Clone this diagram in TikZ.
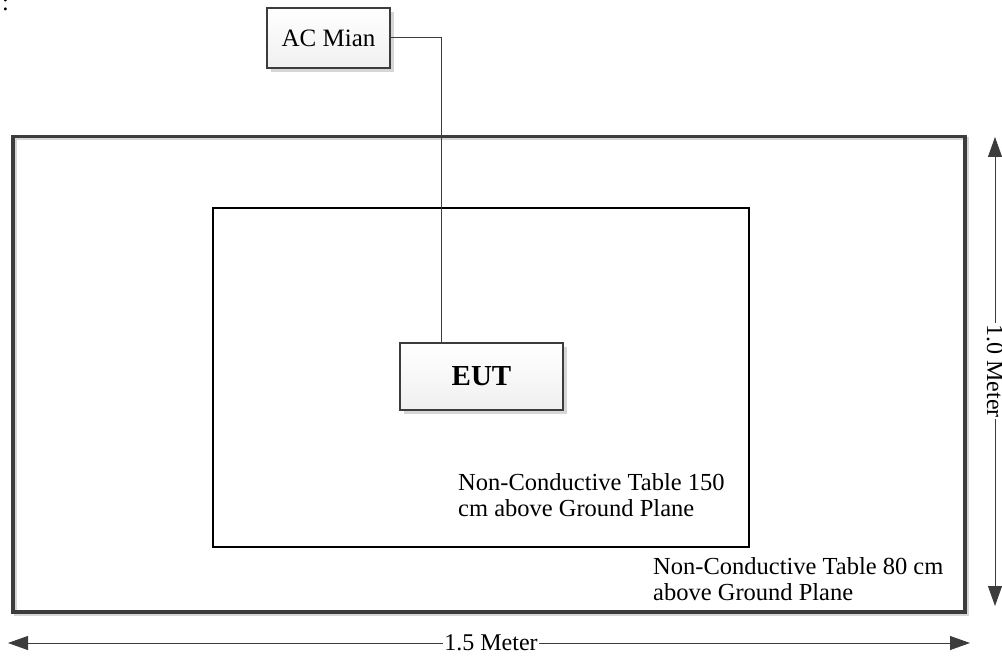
\documentclass[tikz,border=0pt]{standalone}
\usepackage{fontspec}
\setmainfont{Liberation Serif}
\usetikzlibrary{arrows.meta}
\definecolor{dk}{HTML}{3C3C3C}
\definecolor{shd}{HTML}{D6D6D6}
\tikzset{
  lbl/.style={font=\fontsize{24.5}{26}\selectfont, align=left, inner sep=0pt},
  devbox/.style={draw=dk, line width=2.5pt, top color=white, bottom color=gray!12, inner sep=0pt},
  dim/.style={draw=dk!80, line width=0.9pt, {Triangle[length=20pt,width=14pt]}-{Triangle[length=20pt,width=14pt]}, color=dk},
  dimlbl/.style={font=\fontsize{24}{26}\selectfont, fill=white, inner sep=1pt},
  wire/.style={draw=dk, line width=1pt}
}
\begin{document}
\begin{tikzpicture}[x=1pt,y=-1pt]
\useasboundingbox (0,0) rectangle (1002,658);
% colon fragment at top left
\node[lbl, anchor=base west] (colon) at (2,11) {:};
% outer table
\draw[shd, line width=3pt] (15,138.5) rectangle (967,614);
\draw[dk, line width=3.5pt] (13,136.5) rectangle (965,612);
% inner table
\draw[black, line width=1.3pt] (213,208) rectangle (749,547);
% shadows
\fill[shd] (271,12) rectangle (394,72);
\fill[shd] (404,347) rectangle (567,414);
% AC Mian box
\node[devbox, minimum width=123pt, minimum height=60pt, font=\fontsize{25}{26}\selectfont] (ac) at (328.5,38) {AC Mian};
% EUT box
\node[devbox, minimum width=163pt, minimum height=67pt, font=\fontsize{29}{32}\selectfont\bfseries] (eut) at (481.5,376.5) {EUT};
% wire
\coordinate (bend) at (441,38);
\draw[wire] (ac.east) -- (bend) -- (bend |- eut.north);
% labels
\node[lbl, anchor=base west] (t150) at (458,516) {Non-Conductive Table 150\\cm above Ground Plane};
\node[lbl, anchor=base west] (t80) at (653,600) {Non-Conductive Table 80 cm\\above Ground Plane};
% dimension arrows
\coordinate (hl) at (8,643);
\coordinate (hr) at (970,643);
\draw[dim] (hl) -- (hr);
\node[dimlbl] (hlab) at (491,643) {1.5 Meter};
\coordinate (vt) at (995,137);
\coordinate (vb) at (995,606);
\draw[dim] (vt) -- (vb);
\node[dimlbl, rotate=-90] (vlab) at (995,371) {1.0 Meter};
\end{tikzpicture}
\end{document}
